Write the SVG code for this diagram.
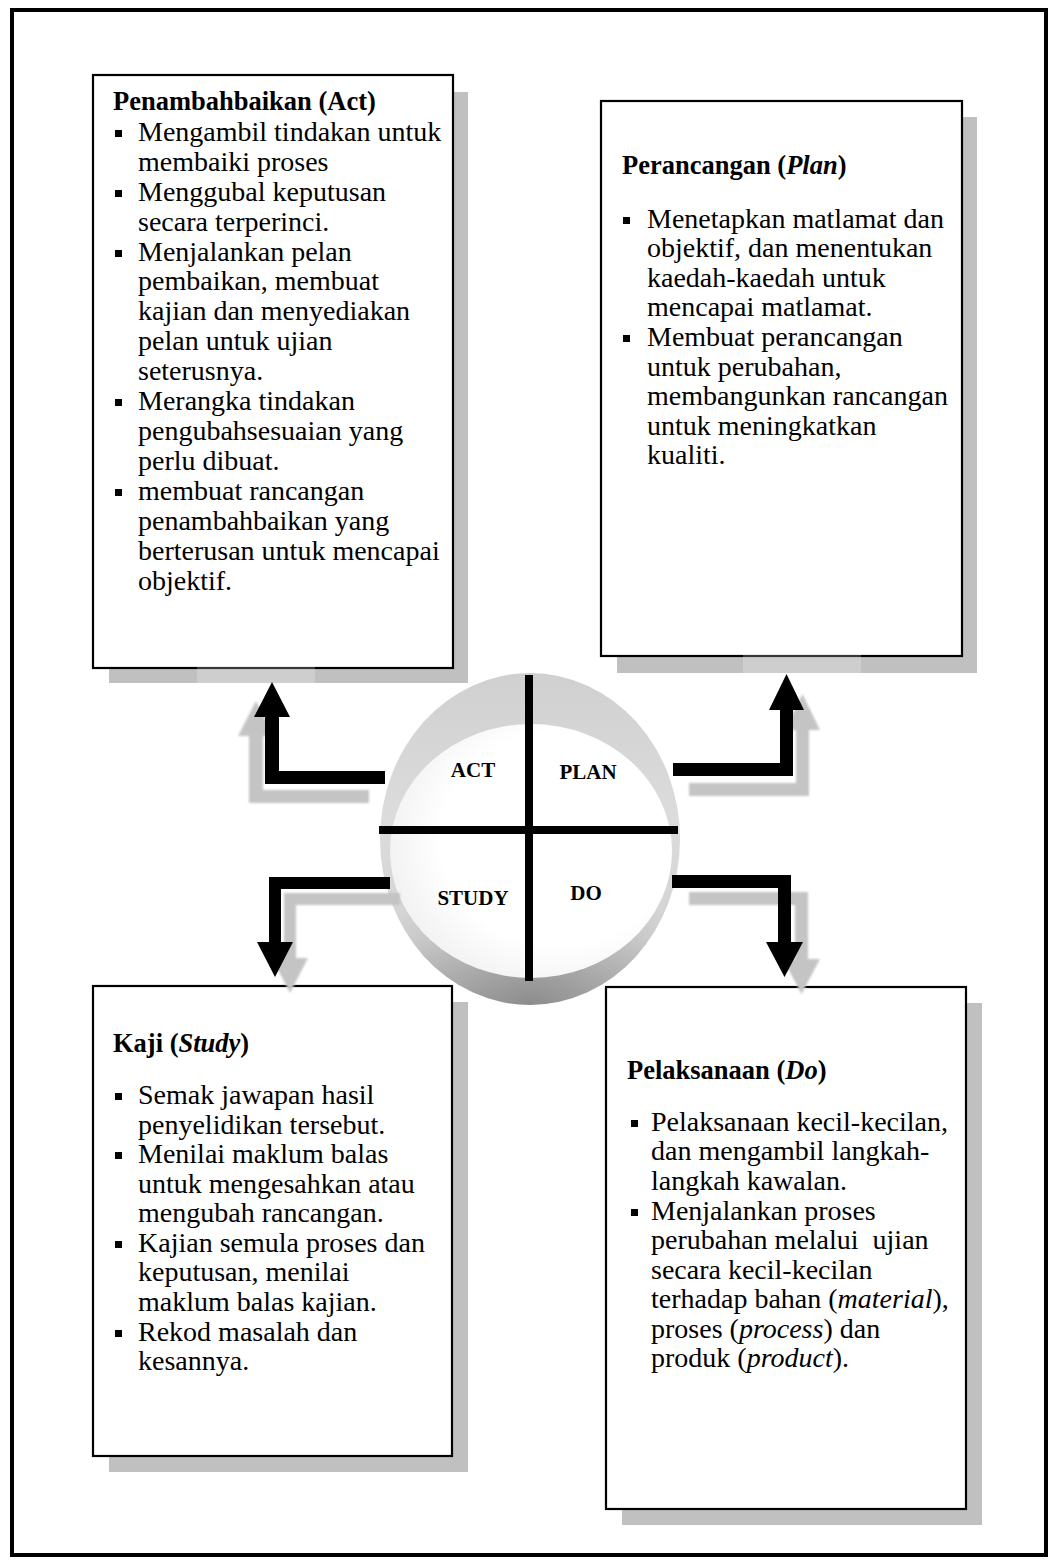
<svg xmlns="http://www.w3.org/2000/svg" width="1058" height="1564" viewBox="0 0 1058 1564">
<defs>
<style>
.frame{fill:#fff;stroke:#000;stroke-width:4}
.box{fill:#fff;stroke:#000;stroke-width:2.2}
.shadow{fill:#c0c0c0}
.t{font-family:"Liberation Serif","Times New Roman",serif;font-size:28px;fill:#000}
.h{font-family:"Liberation Serif","Times New Roman",serif;font-size:26.5px;font-weight:bold;fill:#000}
.lbl{font-family:"Liberation Serif","Times New Roman",serif;font-size:21px;font-weight:bold;fill:#000;text-anchor:middle}
.bul{fill:#000}
.arrow{fill:#000}
.ash{fill:#c4c4c4;filter:url(#blur)}
.cross{stroke:#000;stroke-width:8;fill:none}
.veil{fill:#fff;fill-opacity:0.22}
</style>
<filter id="blur" x="-20%" y="-20%" width="140%" height="140%"><feGaussianBlur stdDeviation="1.2"/></filter>
<linearGradient id="ringV" x1="0" y1="0" x2="0" y2="1">
<stop offset="0" stop-color="#d0d0d0"/>
<stop offset="0.45" stop-color="#dcdcdc"/>
<stop offset="0.8" stop-color="#d2d2d2"/>
<stop offset="1" stop-color="#b4b4b4"/>
</linearGradient>
<radialGradient id="ringB" cx="530" cy="1005" r="160" gradientUnits="userSpaceOnUse">
<stop offset="0" stop-color="#000" stop-opacity="0.22"/>
<stop offset="1" stop-color="#000" stop-opacity="0"/>
</radialGradient>
<radialGradient id="inner" cx="0.6" cy="0.45" r="0.6">
<stop offset="0.7" stop-color="#fff"/>
<stop offset="1" stop-color="#f3f3f3"/>
</radialGradient>
</defs>

<rect class="frame" x="12" y="10" width="1034" height="1545"/>

<g id="node-cycle">
<ellipse cx="530" cy="839" rx="150" ry="166" fill="url(#ringV)"/>
<ellipse cx="530" cy="839" rx="150" ry="166" fill="url(#ringB)"/>
<ellipse cx="531" cy="851" rx="141" ry="127" fill="url(#inner)"/>
<line class="cross" x1="529" y1="675" x2="529" y2="981"/>
<line class="cross" x1="379" y1="830" x2="678" y2="830"/>
<text class="lbl" x="473" y="777">ACT</text>
<text class="lbl" x="588" y="779">PLAN</text>
<text class="lbl" x="473" y="905">STUDY</text>
<text class="lbl" x="586" y="900">DO</text>
</g>

<g id="node-act">
<rect class="shadow" x="109" y="92" width="359" height="591"/>
<rect class="box" x="93" y="75" width="360" height="593"/>
<text class="h" x="113" y="110">Penambahbaikan (Act)</text>
<g class="bul">
<rect x="115" y="130" width="7" height="7"/>
<rect x="115" y="190" width="7" height="7"/>
<rect x="115" y="250" width="7" height="7"/>
<rect x="115" y="399" width="7" height="7"/>
<rect x="115" y="489" width="7" height="7"/>
</g>
<text class="t" x="138" y="141">Mengambil tindakan untuk</text>
<text class="t" x="138" y="171">membaiki proses</text>
<text class="t" x="138" y="201">Menggubal keputusan</text>
<text class="t" x="138" y="231">secara terperinci.</text>
<text class="t" x="138" y="261">Menjalankan pelan</text>
<text class="t" x="138" y="290">pembaikan, membuat</text>
<text class="t" x="138" y="320">kajian dan menyediakan</text>
<text class="t" x="138" y="350">pelan untuk ujian</text>
<text class="t" x="138" y="380">seterusnya.</text>
<text class="t" x="138" y="410">Merangka tindakan</text>
<text class="t" x="138" y="440">pengubahsesuaian yang</text>
<text class="t" x="138" y="470">perlu dibuat.</text>
<text class="t" x="138" y="500">membuat rancangan</text>
<text class="t" x="138" y="530">penambahbaikan yang</text>
<text class="t" x="138" y="560">berterusan untuk mencapai</text>
<text class="t" x="138" y="590">objektif.</text>
</g>

<g id="node-plan">
<rect class="shadow" x="617" y="117" width="360" height="556"/>
<rect class="box" x="601" y="101" width="361" height="555"/>
<text class="h" x="622" y="174">Perancangan (<tspan font-style="italic">Plan</tspan>)</text>
<g class="bul">
<rect x="623" y="217" width="7" height="7"/>
<rect x="623" y="335" width="7" height="7"/>
</g>
<text class="t" x="647" y="228">Menetapkan matlamat dan</text>
<text class="t" x="647" y="257">objektif, dan menentukan</text>
<text class="t" x="647" y="287">kaedah-kaedah untuk</text>
<text class="t" x="647" y="316">mencapai matlamat.</text>
<text class="t" x="647" y="346">Membuat perancangan</text>
<text class="t" x="647" y="376">untuk perubahan,</text>
<text class="t" x="647" y="405">membangunkan rancangan</text>
<text class="t" x="647" y="435">untuk meningkatkan</text>
<text class="t" x="647" y="464">kualiti.</text>
</g>

<g id="node-study">
<rect class="shadow" x="109" y="1002" width="359" height="470"/>
<rect class="box" x="93" y="986" width="359" height="470"/>
<text class="h" x="113" y="1052">Kaji (<tspan font-style="italic">Study</tspan>)</text>
<g class="bul">
<rect x="115" y="1093" width="7" height="7"/>
<rect x="115" y="1152" width="7" height="7"/>
<rect x="115" y="1241" width="7" height="7"/>
<rect x="115" y="1330" width="7" height="7"/>
</g>
<text class="t" x="138" y="1104">Semak jawapan hasil</text>
<text class="t" x="138" y="1134">penyelidikan tersebut.</text>
<text class="t" x="138" y="1163">Menilai maklum balas</text>
<text class="t" x="138" y="1193">untuk mengesahkan atau</text>
<text class="t" x="138" y="1222">mengubah rancangan.</text>
<text class="t" x="138" y="1252">Kajian semula proses dan</text>
<text class="t" x="138" y="1281">keputusan, menilai</text>
<text class="t" x="138" y="1311">maklum balas kajian.</text>
<text class="t" x="138" y="1341">Rekod masalah dan</text>
<text class="t" x="138" y="1370">kesannya.</text>
</g>

<g id="node-do">
<rect class="shadow" x="622" y="1003" width="360" height="522"/>
<rect class="box" x="606" y="987" width="360" height="522"/>
<text class="h" x="627" y="1079">Pelaksanaan (<tspan font-style="italic">Do</tspan>)</text>
<g class="bul">
<rect x="631" y="1120" width="7" height="7"/>
<rect x="631" y="1209" width="7" height="7"/>
</g>
<text class="t" x="651" y="1131">Pelaksanaan kecil-kecilan,</text>
<text class="t" x="651" y="1160">dan mengambil langkah-</text>
<text class="t" x="651" y="1190">langkah kawalan.</text>
<text class="t" x="651" y="1220">Menjalankan proses</text>
<text class="t" x="651" y="1249" xml:space="preserve">perubahan melalui  ujian</text>
<text class="t" x="651" y="1279">secara kecil-kecilan</text>
<text class="t" x="651" y="1308">terhadap bahan (<tspan font-style="italic">material</tspan>),</text>
<text class="t" x="651" y="1338">proses (<tspan font-style="italic">process</tspan>) dan</text>
<text class="t" x="651" y="1367">produk (<tspan font-style="italic">product</tspan>).</text>
</g>

<g id="connectors">
<rect class="veil" x="197" y="662" width="118" height="22"/>
<rect class="veil" x="743" y="650" width="118" height="24"/>
<path class="ash" d="M369,790 L263,790 L263,736 L274,736 L256,701 L238,736 L249,736 L249,803 L369,803 Z"/>
<path class="arrow" d="M385,771 L279,771 L279,717 L290,717 L272,682 L254,717 L265,717 L265,784 L385,784 Z"/>
<path class="ash" d="M689,783 L796,783 L796,730 L785,730 L802.5,694 L820,730 L809,730 L809,796 L689,796 Z"/>
<path class="arrow" d="M673,763 L780,763 L780,710 L769,710 L786.5,674 L804,710 L793,710 L793,776 L673,776 Z"/>
<path class="ash" d="M400,893 L284,893 L284,958 L272,958 L290,993 L308,958 L296,958 L296,905 L400,905 Z"/>
<path class="arrow" d="M390,877 L269,877 L269,942 L257,942 L275,977 L293,942 L281,942 L281,889 L390,889 Z"/>
<path class="ash" d="M689,892 L808,892 L808,959 L820,959 L801.5,994 L783,959 L795,959 L795,905 L689,905 Z"/>
<path class="arrow" d="M672,875 L791,875 L791,942 L803,942 L784.5,977 L766,942 L778,942 L778,888 L672,888 Z"/>
</g>
</svg>
